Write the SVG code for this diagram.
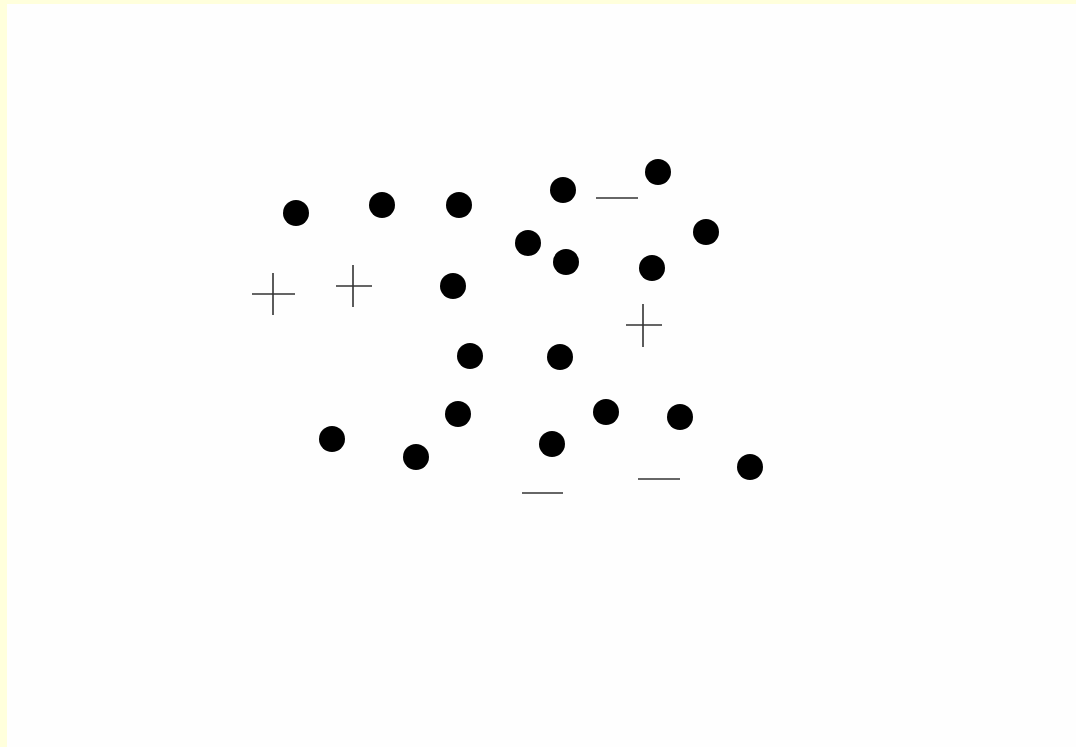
<svg xmlns="http://www.w3.org/2000/svg" width="1076" height="747" viewBox="0 0 1076 747">
<style>
.dot{fill:#000}
.sym{stroke:#333;stroke-width:1.6;fill:none}
.minus{stroke:#666;stroke-width:2;fill:none}
</style>
<rect x="0" y="0" width="1076" height="747" fill="#fefefe"/>
<rect x="0" y="0" width="1076" height="4" fill="#ffffdc"/>
<rect x="0" y="0" width="7" height="747" fill="#ffffdc"/>
<g id="dots">
<circle class="dot" cx="296" cy="213" r="13"/>
<circle class="dot" cx="382" cy="205" r="13"/>
<circle class="dot" cx="459" cy="205" r="13"/>
<circle class="dot" cx="563" cy="190" r="13"/>
<circle class="dot" cx="658" cy="172" r="13"/>
<circle class="dot" cx="528" cy="243" r="13"/>
<circle class="dot" cx="566" cy="262" r="13"/>
<circle class="dot" cx="652" cy="268" r="13"/>
<circle class="dot" cx="706" cy="232" r="13"/>
<circle class="dot" cx="453" cy="286" r="13"/>
<circle class="dot" cx="470" cy="356" r="13"/>
<circle class="dot" cx="560" cy="357" r="13"/>
<circle class="dot" cx="458" cy="414" r="13"/>
<circle class="dot" cx="606" cy="412" r="13"/>
<circle class="dot" cx="680" cy="417" r="13"/>
<circle class="dot" cx="332" cy="439" r="13"/>
<circle class="dot" cx="416" cy="457" r="13"/>
<circle class="dot" cx="552" cy="444" r="13"/>
<circle class="dot" cx="750" cy="467" r="13"/>
</g>
<g id="plus">
<path class="sym" d="M252 294H295M273 273V315"/>
<path class="sym" d="M336 286H372M353 265V307"/>
<path class="sym" d="M626 325H662M643 304V347"/>
</g>
<g id="minus">
<path class="minus" d="M596 198H638"/>
<path class="minus" d="M522 493H563"/>
<path class="minus" d="M638 479H680"/>
</g>
</svg>
